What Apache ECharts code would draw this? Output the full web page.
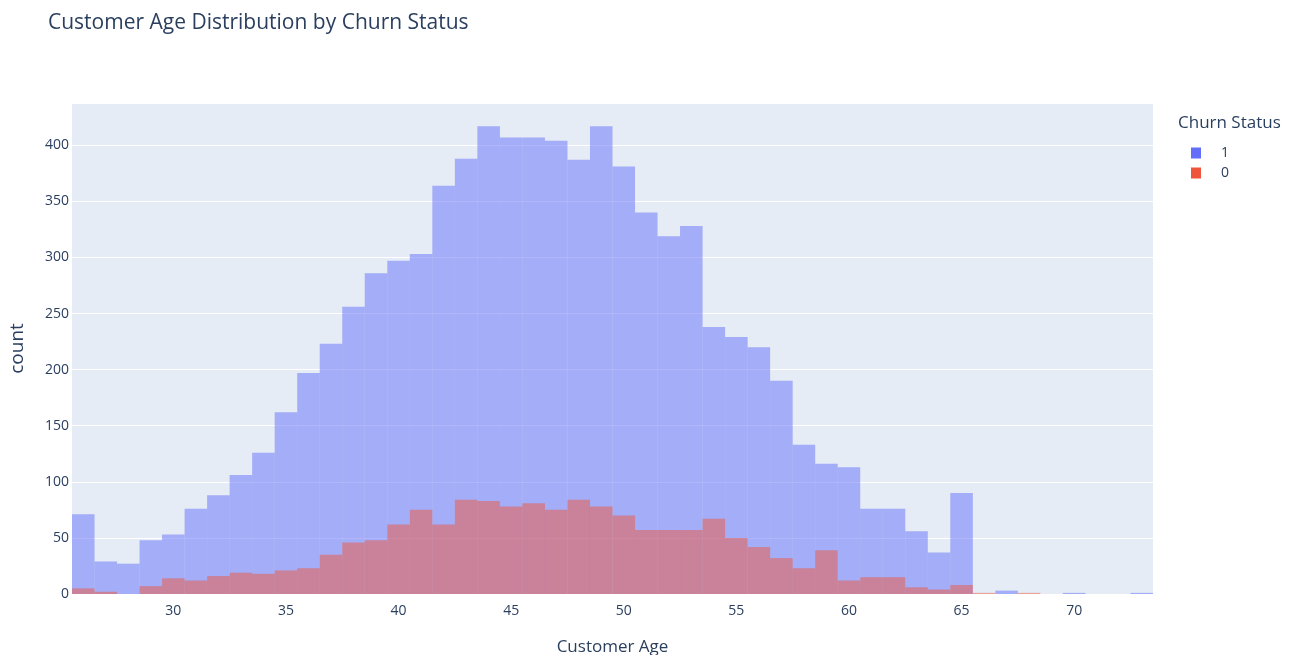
<!DOCTYPE html>
<html>
<head>
<meta charset="utf-8">
<script src="https://cdn.jsdelivr.net/npm/echarts@6/dist/echarts.min.js"></script>
<style>html,body{margin:0;padding:0;background:#fff}#c{width:1293px;height:655px}</style>
</head>
<body>
<div id="c"></div>
<script>
const ages = [26,27,28,29,30,31,32,33,34,35,36,37,38,39,40,41,42,43,44,45,46,47,48,49,50,51,52,53,54,55,56,57,58,59,60,61,62,63,64,65,66,67,68,69,70,71,72,73];
const churn1 = [71,29,27,48,53,76,88,106,126,162,197,223,256,286,297,303,364,388,417,407,407,404,387,417,381,340,319,328,238,229,220,190,133,116,113,76,76,56,37,90,0,3,0,0,1,0,0,1];
const churn0 = [5,2,0,7,14,12,16,19,18,21,23,35,46,48,62,75,62,84,83,78,81,75,84,78,70,57,57,57,67,50,42,32,23,39,12,15,15,6,4,8,1,0,1,0,0,0,0,0];
const xTicks = [30,35,40,45,50,55,60,65,70];
const seriesNames = ['1','0'];

const textColor = '#2a3f5f';
const font = '"Open Sans", "Noto Sans", sans-serif';

function makeSeries(name, values, solid, fill){
  return {
    type:'custom', name:name,
    itemStyle:{color:solid},
    data: ages.map((a,i)=>[a, values[i]]),
    renderItem:function(params, api){
      const a = api.value(0), v = api.value(1);
      if(!v) return null;
      const p0 = api.coord([a-0.5, 0]);
      const p1 = api.coord([a+0.5, v]);
      return {type:'rect', shape:{x:p0[0], y:p1[1], width:p1[0]-p0[0], height:p0[1]-p1[1]},
              style:{fill:fill}};
    },
    encode:{x:0,y:1}
  };
}

const chart = echarts.init(document.getElementById('c'), null, {renderer:'canvas'});
chart.setOption({
  backgroundColor:'#fff',
  animation:false,
  title:[
    {text:'Customer Age Distribution by Churn Status', left:43, top:8,
     textStyle:{fontFamily:font, fontSize:21, fontWeight:'normal', color:textColor}},
    {text:'Churn Status', left:1173, top:110,
     textStyle:{fontFamily:font, fontSize:17, fontWeight:'normal', color:textColor}}
  ],
  legend:{
    data:seriesNames, orient:'vertical', left:1186, top:141,
    icon:'rect', itemWidth:10, itemHeight:11, itemGap:6,
    textStyle:{fontFamily:font, fontSize:14, color:textColor, padding:[0,0,0,15]}
  },
  grid:{left:72, top:103, width:1081, height:491, backgroundColor:'#e5ecf6', show:true, borderWidth:0,
        containLabel:false, outerBoundsMode:'none'},
  xAxis:{
    type:'value', min:25.5, max:73.5,
    name:'Customer Age', nameLocation:'middle', nameGap:45,
    nameTextStyle:{fontFamily:font, fontSize:17, color:textColor},
    axisLine:{show:false}, axisTick:{show:false}, splitLine:{show:false},
    axisLabel:{customValues:xTicks, fontFamily:font, fontSize:14, color:textColor, margin:10}
  },
  yAxis:{
    type:'value', min:0, max:437.7, interval:50,
    name:'count', nameLocation:'middle', nameGap:45,
    nameTextStyle:{fontFamily:font, fontSize:19, color:textColor},
    axisLine:{show:false}, axisTick:{show:false},
    splitLine:{lineStyle:{color:'#ffffff', width:1.2}},
    axisLabel:{fontFamily:font, fontSize:14, color:textColor, margin:3,
               formatter:function(v){return v>430?'':String(v);}}
  },
  series:[
    makeSeries('1', churn1, '#636efa', 'rgba(99,110,250,0.5)'),
    makeSeries('0', churn0, '#ef553b', 'rgba(239,85,59,0.5)')
  ]
});
</script>
</body>
</html>
